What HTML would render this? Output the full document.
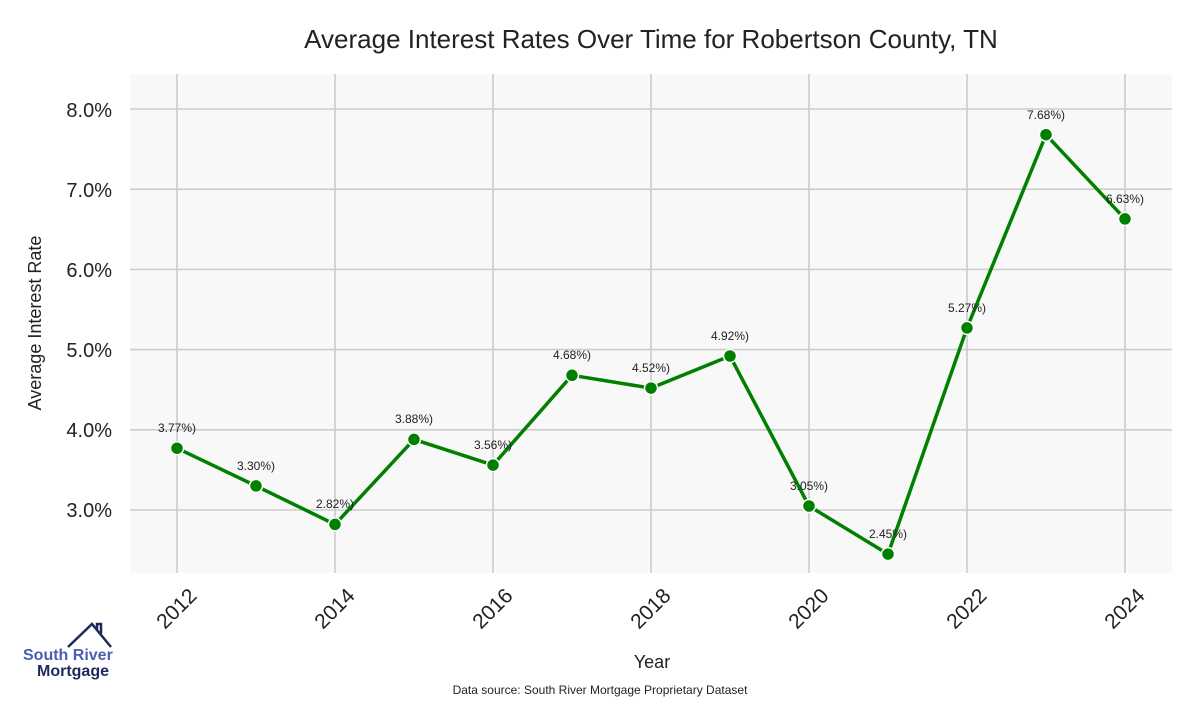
<!DOCTYPE html>
<html><head><meta charset="utf-8"><style>
html,body{margin:0;padding:0;background:#fff;}
svg text{font-family:"Liberation Sans",sans-serif;}
</style></head><body>
<svg width="1200" height="700" xmlns="http://www.w3.org/2000/svg">
<rect x="0" y="0" width="1200" height="700" fill="#fff"/>
<rect x="130" y="74" width="1042" height="499" fill="#f8f8f8"/>
<g stroke="#cccccc" stroke-width="1.6">
<line x1="130" y1="109" x2="1172" y2="109"/>
<line x1="130" y1="189.2" x2="1172" y2="189.2"/>
<line x1="130" y1="269.4" x2="1172" y2="269.4"/>
<line x1="130" y1="349.6" x2="1172" y2="349.6"/>
<line x1="130" y1="429.8" x2="1172" y2="429.8"/>
<line x1="130" y1="510" x2="1172" y2="510"/>
<line x1="177" y1="74" x2="177" y2="573"/>
<line x1="335" y1="74" x2="335" y2="573"/>
<line x1="493" y1="74" x2="493" y2="573"/>
<line x1="651" y1="74" x2="651" y2="573"/>
<line x1="809" y1="74" x2="809" y2="573"/>
<line x1="967" y1="74" x2="967" y2="573"/>
<line x1="1125" y1="74" x2="1125" y2="573"/>
</g>
<text x="651" y="48" font-size="26" fill="#222" text-anchor="middle">Average Interest Rates Over Time for Robertson County, TN</text>
<g font-size="20" fill="#222" text-anchor="end">
<text x="112" y="117">8.0%</text>
<text x="112" y="197">7.0%</text>
<text x="112" y="277">6.0%</text>
<text x="112" y="357">5.0%</text>
<text x="112" y="437">4.0%</text>
<text x="112" y="517">3.0%</text>
</g>
<text transform="translate(41,323) rotate(-90)" font-size="18" fill="#222" text-anchor="middle">Average Interest Rate</text>
<g font-size="21" fill="#222" text-anchor="end">
<text transform="translate(198,597) rotate(-45)">2012</text>
<text transform="translate(356,597) rotate(-45)">2014</text>
<text transform="translate(514,597) rotate(-45)">2016</text>
<text transform="translate(672,597) rotate(-45)">2018</text>
<text transform="translate(830,597) rotate(-45)">2020</text>
<text transform="translate(988,597) rotate(-45)">2022</text>
<text transform="translate(1146,597) rotate(-45)">2024</text>
</g>
<text x="652" y="668" font-size="18" fill="#222" text-anchor="middle">Year</text>
<text x="600" y="694" font-size="12" fill="#222" text-anchor="middle">Data source: South River Mortgage Proprietary Dataset</text>
<polyline fill="none" stroke="#008000" stroke-width="3.5" stroke-linejoin="round" points="177,448.2 256,485.9 335,524.4 414,439.4 493,465.1 572,375.3 651,388.1 730,356 809,506 888,554.1 967,327.9 1046,134.7 1125,218.9"/>
<g fill="#008000" stroke="#fff" stroke-width="1.5">
<circle cx="177" cy="448.2" r="6.5"/><circle cx="256" cy="485.9" r="6.5"/><circle cx="335" cy="524.4" r="6.5"/><circle cx="414" cy="439.4" r="6.5"/><circle cx="493" cy="465.1" r="6.5"/><circle cx="572" cy="375.3" r="6.5"/><circle cx="651" cy="388.1" r="6.5"/><circle cx="730" cy="356" r="6.5"/><circle cx="809" cy="506" r="6.5"/><circle cx="888" cy="554.1" r="6.5"/><circle cx="967" cy="327.9" r="6.5"/><circle cx="1046" cy="134.7" r="6.5"/><circle cx="1125" cy="218.9" r="6.5"/>
</g>
<g font-size="12" fill="#222" text-anchor="middle">
<text x="177" y="432">3.77%)</text>
<text x="256" y="470">3.30%)</text>
<text x="335" y="508">2.82%)</text>
<text x="414" y="423">3.88%)</text>
<text x="493" y="449">3.56%)</text>
<text x="572" y="359">4.68%)</text>
<text x="651" y="372">4.52%)</text>
<text x="730" y="340">4.92%)</text>
<text x="809" y="490">3.05%)</text>
<text x="888" y="538">2.45%)</text>
<text x="967" y="312">5.27%)</text>
<text x="1046" y="119">7.68%)</text>
<text x="1125" y="203">6.63%)</text>
</g>
<polyline fill="none" stroke="#1f2a5c" stroke-width="2.5" points="68,647 92,624 111,647"/>
<polyline fill="none" stroke="#1f2a5c" stroke-width="2.5" points="97,629 97,624 101,624 101,634"/>
<text x="23" y="660" font-size="16" font-weight="bold" fill="#4a5fb0">South River</text>
<text x="37" y="676" font-size="16" font-weight="bold" fill="#1f2a5c">Mortgage</text>
</svg>
</body></html>
